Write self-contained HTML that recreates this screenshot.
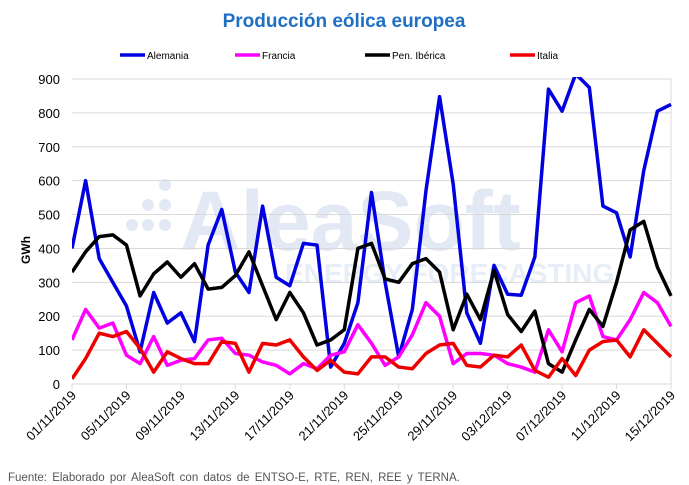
<!DOCTYPE html>
<html><head><meta charset="utf-8"><style>
body{margin:0;background:#fff;font-family:"Liberation Sans",sans-serif;}
svg{display:block}
</style></head><body>
<svg id="chart" width="689" height="485" xmlns="http://www.w3.org/2000/svg">
<text x="344" y="27" text-anchor="middle" font-size="19" font-weight="bold" fill="#1f6fc5">Producción eólica europea</text>
<g fill="#e2e9f4">
<circle cx="165" cy="185" r="6"/><circle cx="148" cy="205" r="6"/><circle cx="165" cy="205" r="6"/>
<circle cx="132" cy="225" r="6"/><circle cx="148" cy="225" r="6"/><circle cx="165" cy="225" r="6"/>
<text x="180" y="250" font-size="84" font-weight="bold">AleaSoft</text>
<text x="285" y="283" font-size="28" font-weight="bold" fill="#e8eef7">ENERGY FORECASTING</text>
</g>
<g id="grid"></g><g id="axes"></g><g id="series"></g><g id="legend"></g>
<text transform="translate(30,250) rotate(-90)" text-anchor="middle" font-size="12" font-weight="bold" fill="#000">GWh</text>
<text x="8" y="481" font-size="11.5" fill="#555" word-spacing="2">Fuente:  Elaborado  por  AleaSoft  con  datos  de  ENTSO-E,  RTE,  REN,  REE  y  TERNA.</text>
</svg>
<script>
const dates=["01/11/2019","05/11/2019","09/11/2019","13/11/2019","17/11/2019","21/11/2019","25/11/2019","29/11/2019","03/12/2019","07/12/2019","11/12/2019","15/12/2019"];
const yTicks=[0,100,200,300,400,500,600,700,800,900];
const seriesNames=["Alemania","Francia","Pen. Ibérica","Italia"];
const alemania=[400,600,370,300,230,95,270,180,210,125,410,515,330,270,525,315,290,415,410,50,120,240,565,300,80,220,570,848,590,210,120,350,265,262,375,870,805,915,875,525,505,375,630,805,825];
const francia=[130,220,165,180,85,60,140,55,70,75,130,135,90,85,65,55,30,60,45,85,95,175,120,55,80,145,240,200,60,90,90,85,60,50,35,160,95,240,260,140,130,190,270,240,170];
const iberica=[330,390,435,440,410,260,325,360,315,355,280,285,320,390,290,190,270,210,115,130,160,400,415,310,300,355,370,330,160,265,190,335,205,155,215,60,35,130,220,170,300,455,480,345,260];
const italia=[15,75,150,140,155,105,35,95,75,60,60,125,120,35,120,115,130,80,40,70,35,30,80,80,50,45,90,115,120,55,50,85,80,115,40,20,75,25,100,125,130,80,160,120,80];
const colors=["#0000e0","#ff00ff","#000000","#ee0000"];
const NS="http://www.w3.org/2000/svg";
const L=72,R=671,T=79,B=384,N=alemania.length;
const xs=i=>L+(R-L)*i/(N-1);
const ys=v=>B-(B-T)*v/900;
function mk(tag,attrs,parent){const e=document.createElementNS(NS,tag);for(const k in attrs)e.setAttribute(k,attrs[k]);parent.appendChild(e);return e;}
const grid=document.getElementById('grid'),axes=document.getElementById('axes'),ser=document.getElementById('series'),leg=document.getElementById('legend');
yTicks.forEach(v=>{
  const l=mk('line',{x1:L,x2:R,y1:ys(v),y2:ys(v),stroke:"#d9d9d9","stroke-width":1},grid);
  
  
  const t=mk('text',{x:L-12,y:ys(v)+5,"text-anchor":"end","font-size":13,fill:"#000"},axes);
  t.textContent=v;
  
  
});
mk('line',{x1:R,x2:R,y1:T,y2:B,stroke:"#d9d9d9"},grid);
dates.forEach((d,k)=>{
  const x=xs(k*4);
  const tk=mk('line',{x1:x,x2:x,y1:B,y2:B+5,stroke:"#d9d9d9"},axes);
  
  
  const t=mk('text',{transform:`translate(${x+5},${B+12}) rotate(-45)`,"text-anchor":"end","font-size":13,fill:"#000"},axes);
  t.textContent=d;
  
  
});
const cp=mk('clipPath',{id:'cp'},document.getElementById('chart'));
mk('rect',{x:L,y:T-2,width:R-L+3,height:B-T+4},cp);
[alemania,francia,iberica,italia].forEach((arr,s)=>{
  const p=mk('polyline',{points:arr.map((v,i)=>xs(i)+","+ys(v)).join(" "),fill:"none",stroke:colors[s],"stroke-width":3.5,"stroke-linejoin":"round","clip-path":"url(#cp)"},ser);
  
  
});
const lx=[147,262,392,537];
seriesNames.forEach((n,s)=>{
  const g=mk('g',{},leg);
  
  
  mk('line',{x1:lx[s]-27,x2:lx[s]-2,y1:55,y2:55,stroke:colors[s],"stroke-width":3.5},g);
  const t=mk('text',{x:lx[s],y:59,"font-size":10,fill:"#000"},g);
  t.textContent=n;
});
</script>
</body></html>
